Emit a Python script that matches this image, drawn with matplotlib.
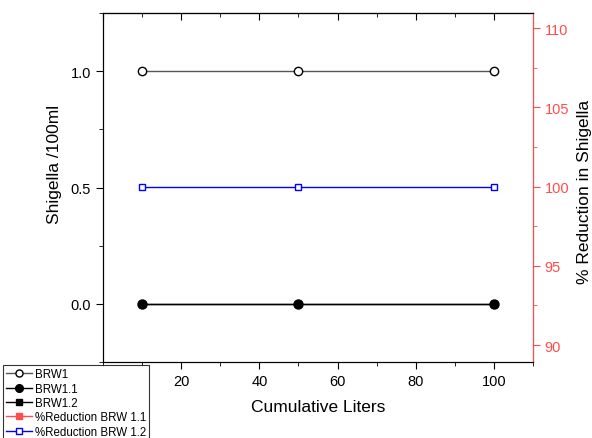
import matplotlib.pyplot as plt
import numpy as np
from matplotlib.ticker import MultipleLocator

plt.rcParams['font.family'] = ['Liberation Sans', 'DejaVu Sans']

liters = [10, 50, 100]
brw1 = [1.0, 1.0, 1.0]
brw1_1 = [0.0, 0.0, 0.0]
brw1_2 = [0.0, 0.0, 0.0]
red_11 = [np.nan, np.nan, np.nan]   # not visible in the picture
red_12 = [100, 100, 100]

red = "#ff4d4d"

fig = plt.figure(figsize=(5.92, 4.39), dpi=100)
ax = fig.add_axes([103/592, 1-363/439, 430/592, 349/439])
ax2 = ax.twinx()

l1, = ax.plot(liters, brw1, '-', color='#555555', lw=1, marker='o', ms=6,
              mfc='white', mec='black', label='BRW1')
l3, = ax.plot(liters, brw1_2, '-', color='black', lw=1, marker='s', ms=5,
              mfc='black', mec='black', label='BRW1.2')
l2, = ax.plot(liters, brw1_1, '-', color='black', lw=1, marker='o', ms=6.5,
              mfc='black', mec='black', label='BRW1.1')
l4, = ax2.plot(liters, red_11, '-', color=red, lw=1, marker='s', ms=5,
               mfc=red, mec=red, label='%Reduction BRW 1.1')
l5, = ax2.plot(liters, red_12, '-', color='blue', lw=1, marker='s', ms=5,
               mfc='white', mec='blue', label='%Reduction BRW 1.2')

ax.set_xlim(0, 110)
ax.set_ylim(-0.25, 1.25)
ax2.set_ylim(88.93, 110.95)

ax.xaxis.set_major_locator(MultipleLocator(20))
ax.xaxis.set_minor_locator(MultipleLocator(10))
ax.yaxis.set_major_locator(MultipleLocator(0.5))
ax.yaxis.set_minor_locator(MultipleLocator(0.25))
ax2.yaxis.set_major_locator(MultipleLocator(5))
ax2.yaxis.set_minor_locator(MultipleLocator(2.5))

ax.tick_params(axis='x', which='both', bottom=True, direction='out', labelsize=10.5)
ax.tick_params(axis='x', which='major', length=5)
ax.tick_params(axis='x', which='minor', length=3)
ax.tick_params(axis='y', which='major', length=5, labelsize=10.5)
ax.tick_params(axis='y', which='minor', length=3)
ax.set_xticks([20, 40, 60, 80, 100])
ax.set_yticks([0.0, 0.5, 1.0])
ax.set_yticklabels(['0.0', '0.5', '1.0'])

# top ticks pointing inward
sec = ax.secondary_xaxis('top')
sec.set_xticks([0, 20, 40, 60, 80, 100])
sec.xaxis.set_minor_locator(MultipleLocator(10))
sec.tick_params(axis='x', which='both', direction='in', labeltop=False)
sec.tick_params(axis='x', which='major', length=5)
sec.tick_params(axis='x', which='minor', length=3)

ax2.tick_params(axis='y', which='both', colors=red, labelsize=10.5)
ax2.tick_params(axis='y', which='major', length=5)
ax2.tick_params(axis='y', which='minor', length=3)
ax2.spines['right'].set_color(red)

ax.set_xlabel('Cumulative Liters', fontsize=12.5, labelpad=8)
ax.set_ylabel('Shigella /100ml', fontsize=12.5)
ax.yaxis.set_label_coords(-0.095, 0.57)
ax2.set_ylabel('% Reduction in Shigella', fontsize=12.5, color='black')
ax2.yaxis.set_label_coords(1.103, 0.49)

leg = fig.legend(handles=[l1, l2, l3, l4, l5], loc='upper left',
                 bbox_to_anchor=(3/592, 1-366/439), bbox_transform=fig.transFigure,
                 fontsize=8.3, frameon=True, fancybox=False, edgecolor='black',
                 handlelength=2.2, handletextpad=0.25, labelspacing=0.2,
                 borderpad=0.3, borderaxespad=0, markerscale=0.85)
leg.get_frame().set_linewidth(0.8)
leg.set_zorder(10)

plt.savefig("out.png", dpi=100)
